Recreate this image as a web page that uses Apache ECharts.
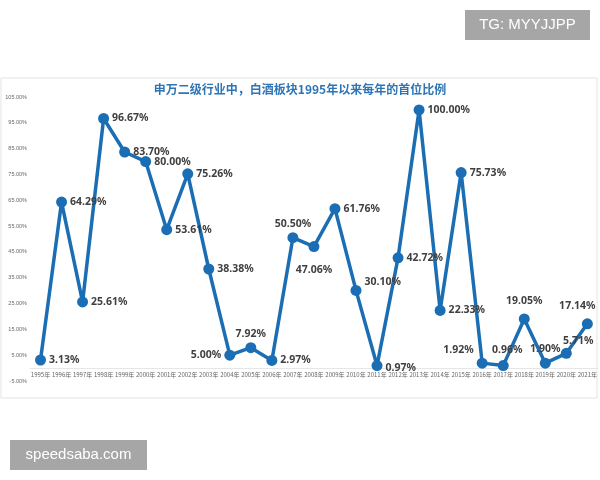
<!DOCTYPE html>
<html>
<head>
<meta charset="utf-8">
<script src="https://cdn.jsdelivr.net/npm/echarts@6/dist/echarts.min.js"></script>
<style>
  html, body { margin: 0; padding: 0; background: #fff; }
  #chart { width: 600px; height: 480px; }
</style>
</head>
<body>
<div id="chart"></div>
<script>
  const titleText = '申万二级行业中，白酒板块1995年以来每年的首位比例';
  const years = [
    '1995年', '1996年', '1997年', '1998年', '1999年', '2000年', '2001年',
    '2002年', '2003年', '2004年', '2005年', '2006年', '2007年', '2008年',
    '2009年', '2010年', '2011年', '2012年', '2013年', '2014年', '2015年',
    '2016年', '2017年', '2018年', '2019年', '2020年', '2021年'
  ];
  const shares = [
    3.13, 64.29, 25.61, 96.67, 83.70, 80.00, 53.61,
    75.26, 38.38, 5.00, 7.92, 2.97, 50.50, 47.06,
    61.76, 30.10, 0.97, 42.72, 100.00, 22.33, 75.73,
    1.92, 0.96, 19.05, 1.90, 5.71, 17.14
  ];
  const watermarks = ['TG: MYYJJPP', 'speedsaba.com'];

  // label placement per year (style only)
  const labelStyle = {
    '2004年': { position: 'left' },
    '2005年': { position: 'top' },
    '2007年': { position: 'top' },
    '2008年': { position: 'bottom', distance: 12 },
    '2010年': { position: 'right', offset: [0, -8] },
    '2011年': { position: 'right', offset: [0, 2] },
    '2016年': { position: 'left', offset: [0, -13] },
    '2017年': { position: 'top', offset: [4, -2] },
    '2018年': { position: 'top', offset: [0, -4] },
    '2019年': { position: 'top', offset: [0, 0] },
    '2020年': { position: 'top', offset: [12, 2] },
    '2021年': { position: 'top', offset: [-10, -4] }
  };

  const seriesData = shares.map((v, i) => {
    const item = { value: v };
    if (labelStyle[years[i]]) item.label = labelStyle[years[i]];
    return item;
  });

  const chart = echarts.init(document.getElementById('chart'));
  chart.setOption({
    backgroundColor: '#fff',
    animation: false,
    title: {
      text: titleText,
      left: 'center',
      top: 78,
      textStyle: {
        color: '#2e75b6',
        fontSize: 12,
        fontWeight: 'bold',
        fontFamily: 'Noto Sans CJK SC'
      }
    },
    graphic: [
      {
        type: 'rect',
        shape: { x: 1, y: 78, width: 596, height: 320 },
        style: { fill: 'none', stroke: '#e3e3e3', lineWidth: 1 },
        z: -1
      },
      {
        type: 'group',
        left: 465,
        top: 10,
        children: [
          { type: 'rect', shape: { x: 0, y: 0, width: 125, height: 30 }, style: { fill: '#a6a6a6' } },
          { type: 'text', x: 62.5, y: 15, style: { text: watermarks[0], fill: '#fff', font: '15px "Liberation Sans", Arial', align: 'center', verticalAlign: 'middle' } }
        ]
      },
      {
        type: 'group',
        left: 10,
        top: 440,
        children: [
          { type: 'rect', shape: { x: 0, y: 0, width: 137, height: 30 }, style: { fill: '#a6a6a6' } },
          { type: 'text', x: 68.5, y: 15, style: { text: watermarks[1], fill: '#fff', font: '15px "Liberation Sans", Arial', align: 'center', verticalAlign: 'middle' } }
        ]
      }
    ],
    grid: { left: 30, right: 2, top: 97, bottom: 99 },
    xAxis: {
      type: 'category',
      data: years,
      boundaryGap: true,
      offset: -13,
      axisLine: { onZero: false, lineStyle: { color: '#e6e6e6' } },
      axisTick: { show: false },
      axisLabel: {
        interval: 0,
        fontSize: 6,
        color: '#666',
        margin: 4,
        fontFamily: 'Noto Sans CJK SC'
      }
    },
    yAxis: {
      type: 'value',
      min: -5,
      max: 105,
      interval: 10,
      splitLine: { show: false },
      axisLine: { show: false },
      axisTick: { show: false },
      axisLabel: {
        fontSize: 5.5,
        color: '#666',
        margin: 3,
        formatter: v => v.toFixed(2) + '%'
      }
    },
    series: [{
      type: 'line',
      data: seriesData,
      symbol: 'circle',
      symbolSize: 11,
      lineStyle: { color: '#1b6eb3', width: 3.5 },
      itemStyle: { color: '#1b6eb3' },
      label: {
        show: true,
        position: 'right',
        distance: 3,
        color: '#404040',
        fontSize: 10.5,
        fontWeight: 'bold',
        fontFamily: 'Noto Sans',
        formatter: p => p.value.toFixed(2) + '%'
      }
    }]
  });
</script>
</body>
</html>
